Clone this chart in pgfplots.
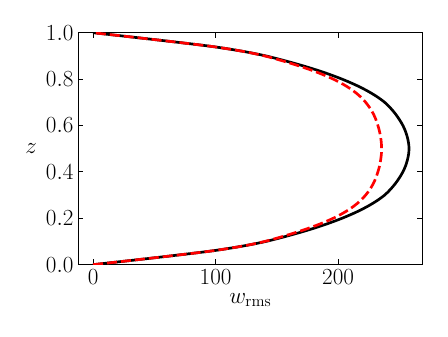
\documentclass[border=0pt]{standalone}
\usepackage{pgfplots}
\pgfplotsset{compat=1.18}

\begin{document}
\begin{tikzpicture}
\begin{axis}[
  scale only axis,
  width=258pt, height=173.7pt,
  xmin=-12.2, xmax=269,
  ymin=0, ymax=1,
  xtick={0,100,200},
  ytick={0,0.2,0.4,0.6,0.8,1.0},
  yticklabel style={/pgf/number format/.cd,fixed,fixed zerofill,precision=1},
  tick align=inside,
  major tick length=4pt,
  minor tick num=0,
  axis line style={line width=0.9pt},
  tick style={line width=0.7pt, black},
  ticklabel style={font=\fontsize{17}{19}\selectfont},
  label style={font=\fontsize{17}{19}\selectfont},
  xlabel={$w_{\mathrm{rms}}$},
  ylabel={$z$},
  ylabel style={rotate=-90},
]
% black solid
\addplot[black, line width=2pt, smooth] coordinates {
(0,0) (34,0.02) (67,0.04) (98,0.06) (122,0.08) (141,0.10) (159.5,0.125)
(176,0.15) (190.5,0.175) (203.2,0.20) (214.2,0.225) (223.6,0.25) (231.5,0.275)
(238,0.30) (242.8,0.325) (246.8,0.35) (250.1,0.375) (252.9,0.40) (255,0.425)
(256.5,0.45) (257.5,0.475) (257.9,0.50) (257.5,0.525) (256.5,0.55) (255,0.575)
(252.9,0.60) (250.1,0.625) (246.8,0.65) (242.8,0.675) (238,0.70) (231.5,0.725)
(223.6,0.75) (214.2,0.775) (203.2,0.80) (190.5,0.825) (176,0.85) (159.5,0.875)
(141,0.90) (122,0.92) (98,0.94) (67,0.96) (34,0.98) (0,1)
};
% red dashed
\addplot[red, line width=2pt, smooth, dash pattern=on 7.5pt off 3pt] coordinates {
(0,0) (34,0.02) (67,0.04) (98,0.06) (122,0.08) (140,0.10) (157,0.125)
(172,0.15) (185,0.175) (196,0.20) (205,0.225) (212.3,0.25) (218,0.275)
(222.5,0.30) (226,0.325) (228.8,0.35) (230.9,0.375) (232.5,0.40) (233.8,0.425)
(234.7,0.45) (235.3,0.475) (235.5,0.50) (235.3,0.525) (234.7,0.55) (233.8,0.575)
(232.5,0.60) (230.9,0.625) (228.8,0.65) (226,0.675) (222.5,0.70) (218,0.725)
(212.3,0.75) (205,0.775) (196,0.80) (185,0.825) (172,0.85) (157,0.875)
(140,0.90) (122,0.92) (98,0.94) (67,0.96) (34,0.98) (0,1)
};
\path (rel axis cs:0,0) ++(-58.5pt,-54pt) coordinate (bl);
\path (rel axis cs:1,1) ++(19pt,24.5pt) coordinate (tr);
\end{axis}
\useasboundingbox (bl) rectangle (tr);
\end{tikzpicture}
\end{document}
